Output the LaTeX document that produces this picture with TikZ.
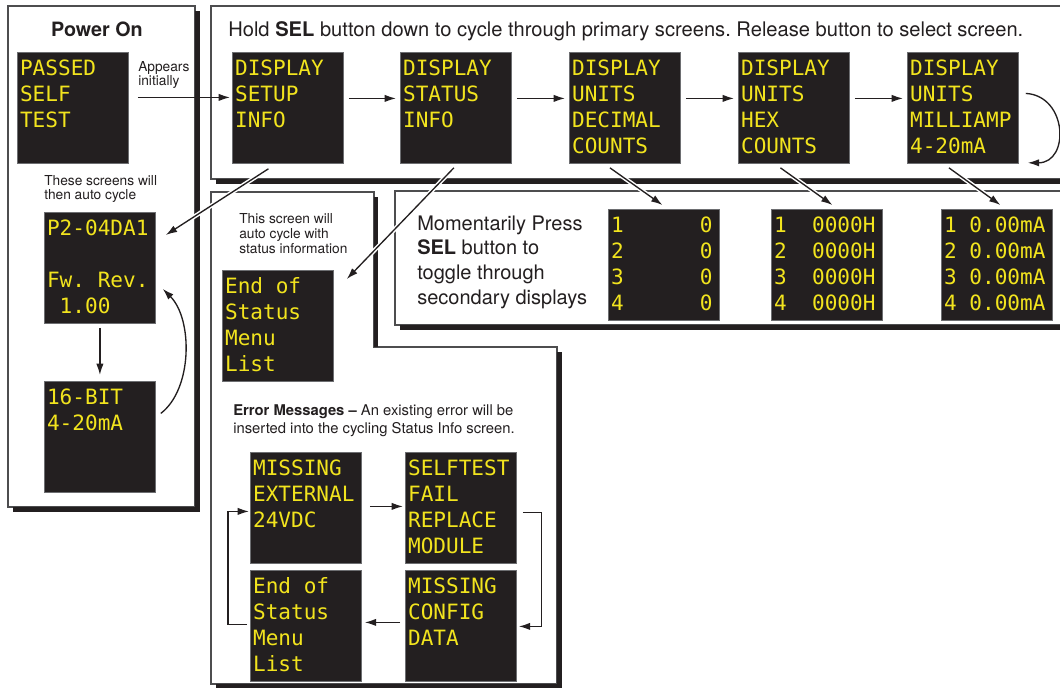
\documentclass[tikz,border=0pt]{standalone}
\usepackage{fontspec}
\setmainfont{TeX Gyre Heros}
\newfontfamily\scrfont{DejaVu Sans Mono}
\usetikzlibrary{arrows.meta,calc}
\definecolor{scrbg}{HTML}{231F20}
\definecolor{scrframe}{HTML}{6D6E71}
\definecolor{scryel}{RGB}{242,228,30}
\definecolor{panelc}{HTML}{4D4D4F}
\definecolor{shad}{HTML}{231F20}
\definecolor{ink}{HTML}{231F20}
\frenchspacing
\newcommand\scrtext[1]{\parbox[t][83.25pt][t]{83.25pt}{\raggedright\leftskip=2pt\baselineskip=19.5pt\rule{0pt}{17.6pt}#1}}
\newcommand\ml[1]{\begin{tabular}[t]{@{}l@{}}#1\end{tabular}}
\begin{document}
\begin{tikzpicture}[x=0.75pt,y=-0.75pt,
  screen/.style={draw=scrframe, line width=0.6pt, fill=scrbg, inner sep=0pt, anchor=north west,
    text=scryel, font=\scrfont\fontsize{15.8pt}{19.5pt}\selectfont},
  panel/.style={draw=panelc, line width=0.9pt, fill=white},
  shadow/.style={fill=shad},
  lbl/.style={inner sep=0pt, anchor=base west, text=ink},
  arr/.style={draw=ink, line width=1pt, -{Latex[length=8.5pt,width=5.5pt]}},
  halo/.style={preaction={draw=white, line width=3.2pt, -}}
]
\useasboundingbox (0,0) rectangle (1060,687);
\clip (0,0) rectangle (1060,687);

% panels
\draw[panel] (8,6) rectangle (195,507);
\fill[shadow] (195,11) rectangle (200,512);
\fill[shadow] (13,507) rectangle (200,512);

\draw[panel] (211,6) rectangle (1075,179);
\fill[shadow] (216,179) rectangle (1075,184);

\draw[panel] (395,191) rectangle (1075,325);
\fill[shadow] (400,325) rectangle (1075,330);

\draw[panel] (211,192) -- (374,192) -- (374,347) -- (557,347) -- (557,684) -- (211,684) -- cycle;
\fill[shadow] (374,197) rectangle (378,347);
\fill[shadow] (557,352) rectangle (562,692);
\fill[shadow] (216,684) rectangle (562,692);

% labels
\node[lbl, anchor=base, font=\bfseries\fontsize{14.8pt}{17pt}\selectfont] (pon) at (97,36.5) {Power On};
\node[lbl, font=\fontsize{10.3pt}{10.5pt}\selectfont] (app) at (138,71) {\ml{Appears\\initially}};
\node[lbl, font=\fontsize{10.3pt}{10.5pt}\selectfont] (auto) at (44,185) {\ml{These screens will\\then auto cycle}};
\node[lbl, font=\fontsize{10.3pt}{11.25pt}\selectfont] (stat) at (239,223) {\ml{This screen will\\auto cycle with\\status information}};
\node[lbl, font=\fontsize{15.1pt}{17pt}\selectfont] (hold) at (228,36) {Hold \textbf{SEL} button down to cycle through primary screens. Release button to select screen.};
\node[lbl, font=\fontsize{15pt}{18.5pt}\selectfont] (mom) at (417,230) {\ml{Momentarily Press\\\textbf{SEL} button to\\toggle through\\secondary displays}};
\node[lbl, font=\fontsize{11.1pt}{13.5pt}\selectfont] (err) at (233,415) {\ml{\textbf{Error Messages --} An existing error will be\\inserted into the cycling Status Info screen.}};

% screens
\node[screen] (pst) at (17,52) {\scrtext{PASSED\\SELF\\TEST}};
\node[screen] (fw) at (44,212) {\scrtext{P2-04DA1\\\mbox{}\\Fw. Rev.\\~1.00}};
\node[screen] (bit) at (44,381) {\scrtext{16-BIT\\4-20mA}};

\node[screen] (dsi) at (232,52) {\scrtext{DISPLAY\\SETUP\\INFO}};
\node[screen] (dst) at (400,52) {\scrtext{DISPLAY\\STATUS\\INFO}};
\node[screen] (dud) at (569,52) {\scrtext{DISPLAY\\UNITS\\DECIMAL\\COUNTS}};
\node[screen] (duh) at (738,52) {\scrtext{DISPLAY\\UNITS\\HEX\\COUNTS}};
\node[screen] (dum) at (907,52) {\scrtext{DISPLAY\\UNITS\\MILLIAMP\\4-20mA}};

\node[screen] (sdec) at (608,209) {\scrtext{1~~~~~~0\\2~~~~~~0\\3~~~~~~0\\4~~~~~~0}};
\node[screen] (shex) at (771,209) {\scrtext{1~~0000H\\2~~0000H\\3~~0000H\\4~~0000H}};
\node[screen] (sma) at (941,209) {\scrtext{1~0.00mA\\2~0.00mA\\3~0.00mA\\4~0.00mA}};

\node[screen] (eos) at (222,270) {\scrtext{End of\\Status\\Menu\\List}};

\node[screen] (me) at (250,452) {\scrtext{MISSING\\EXTERNAL\\24VDC}};
\node[screen] (sf) at (405,452) {\scrtext{SELFTEST\\FAIL\\REPLACE\\MODULE}};
\node[screen] (eo) at (250,570) {\scrtext{End of\\Status\\Menu\\List}};
\node[screen] (mc) at (405,570) {\scrtext{MISSING\\CONFIG\\DATA}};

% connectors
\draw[arr] ($(pst.east)+(9,-10.5)$) -- ($(dsi.west)+(-2,-10.5)$);
\draw[arr] ($(dsi.east)+(5,-9.5)$) -- ($(dst.west)+(-4,-9.5)$);
\draw[arr] ($(dst.east)+(5,-9.5)$) -- ($(dud.west)+(-4,-9.5)$);
\draw[arr] ($(dud.east)+(5,-9.5)$) -- ($(duh.west)+(-4,-9.5)$);
\draw[arr] ($(duh.east)+(5,-9.5)$) -- ($(dum.west)+(-4,-9.5)$);
\draw[arr] ($(dum.east)+(7,-14.5)$) .. controls ($(dum.east)+(49,-12)$) and ($(dum.south east)+(51,-1)$) .. ($(dum.south east)+(9,-1)$);

\draw[arr,halo] ($(dud.south)+(-15,4)$) -- ($(sdec.north)+(-1.5,-4)$);
\draw[arr,halo] ($(duh.south)+(-13.5,4)$) -- ($(shex.north)+(5.5,-4)$);
\draw[arr,halo] ($(dum.south)+(-14,4)$) -- ($(sma.north)+(3.5,-4)$);

\draw[arr,halo] ($(dsi.south)+(-19.5,5)$) -- ($(fw.north east)+(10,23)$);
\draw[arr,halo] ($(dst.south)+(-2,4)$) -- ($(eos.north east)+(13,9)$);

\draw[arr] ($(fw.south)+(0,4)$) -- ($(bit.north)+(0,-6)$);
\draw[arr] ($(bit.east)+(5,-23.5)$) .. controls ($(bit.east)+(37,-48)$) and ($(fw.east)+(37,51)$) .. ($(fw.east)+(7,21)$);

\draw[arr] ($(me.east)+(8,-1.5)$) -- ($(sf.west)+(-2,-1.5)$);
\draw[arr] ($(sf.east)+(6,4.5)$) -- ++(19,0) |- ($(mc.east)+(2,0.5)$);
\draw[arr] ($(mc.west)+(-5,-3.5)$) -- ($(eo.east)+(3,-3.5)$);
\draw[arr] ($(eo.west)+(-3,-1.5)$) -- ++(-19,0) |- ($(me.west)+(-1,3.5)$);
\end{tikzpicture}
\end{document}
